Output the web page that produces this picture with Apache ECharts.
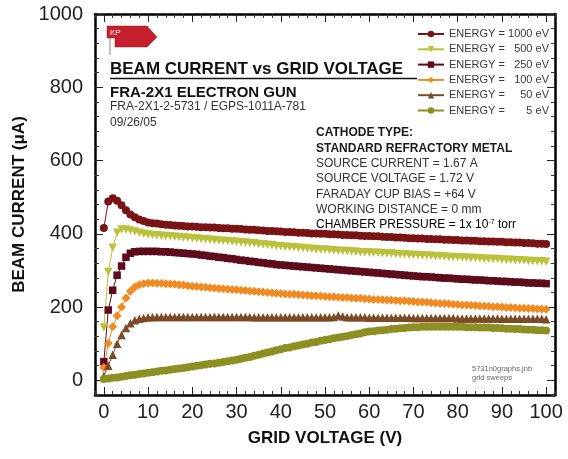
<!DOCTYPE html>
<html>
<head>
<meta charset="utf-8">
<script src="https://cdn.jsdelivr.net/npm/echarts@6/dist/echarts.min.js"></script>
<style>html,body{margin:0;padding:0;background:#fff}#c{width:568px;height:459px}</style>
</head>
<body>
<div id="c"></div>
<script>
var voltages = [0,1,2,3,4,5,6,7,8,9,10,11,12,13,14,15,16,17,18,19,20,21,22,23,24,25,26,27,28,29,30,31,32,33,34,35,36,37,38,39,40,41,42,43,44,45,46,47,48,49,50,51,52,53,54,55,56,57,58,59,60,61,62,63,64,65,66,67,68,69,70,71,72,73,74,75,76,77,78,79,80,81,82,83,84,85,86,87,88,89,90,91,92,93,94,95,96,97,98,99,100];
var e1000 = [416,488,497,490,478,464,453,445,439,435,431,429,428,426,425,424,423,422,421,420,420,419,418,418,417,417,416,415,415,414,414,413,412,411,411,410,409,408,408,407,406,405,405,404,403,403,402,401,401,400,400,399,399,398,397,397,396,396,395,394,394,393,393,392,391,391,390,390,389,388,388,387,387,386,386,385,385,384,384,383,383,382,382,381,381,380,380,379,379,378,378,377,377,376,376,375,375,374,373,373,372];
var e500 = [144,296,362,403,412,412,409,406,403,400,398,397,396,395,394,393,392,391,390,389,388,387,386,385,384,383,382,381,380,379,378,377,376,375,374,372,371,370,369,367,366,365,364,363,362,361,360,359,358,357,357,356,355,354,353,353,352,351,350,350,349,348,348,347,346,346,345,344,344,343,342,342,341,341,340,339,339,338,337,337,336,335,335,334,334,333,332,332,331,331,330,329,329,328,328,327,326,326,325,325,324];
var e250 = [51,192,246,287,312,336,347,351,352,352,352,352,352,351,351,350,349,348,347,346,345,344,342,341,339,338,336,335,333,332,330,328,327,325,324,322,321,319,318,316,315,314,313,312,311,310,309,308,307,306,305,304,303,302,301,300,299,298,297,296,295,294,293,292,291,290,289,288,287,286,285,284,283,283,282,281,280,279,279,278,277,276,276,275,274,274,273,272,272,271,270,270,269,268,268,267,266,266,265,265,264];
var e100 = [35,101,146,176,200,225,243,255,261,264,266,266,265,265,264,263,262,261,260,258,257,256,255,254,253,252,251,250,249,248,247,246,245,244,243,242,241,240,239,238,237,236,235,235,234,233,232,231,231,230,229,228,228,227,226,226,225,224,224,223,222,221,221,220,219,219,218,217,217,216,215,214,214,213,212,211,210,210,209,208,207,206,206,205,204,203,203,202,201,201,200,199,199,198,197,197,196,196,195,195,194];
var e50 = [12,40,70,100,124,143,156,164,168,170,172,172,173,173,173,173,173,173,173,173,173,173,173,173,173,173,173,173,173,173,173,173,173,173,172,172,172,172,172,172,172,172,172,172,172,172,172,172,172,172,172,172,173,177,174,172,172,172,172,172,171,171,171,171,171,171,171,171,171,171,170,170,170,170,170,170,170,170,170,170,169,169,169,169,169,169,169,169,169,169,168,168,168,168,168,168,168,168,168,168,167];
var e5 = [4,5,7,8,10,12,14,15,17,19,21,22,24,26,27,29,31,32,34,36,38,40,41,43,45,46,48,50,52,54,56,59,62,64,67,70,73,76,79,82,85,88,90,93,95,98,100,103,105,108,110,112,115,117,119,121,124,126,128,131,133,134,136,137,138,140,141,142,143,144,145,145,146,146,146,146,146,146,146,146,146,146,145,145,145,144,144,144,143,143,142,141,141,140,140,139,138,138,137,137,136];
var seriesNames = ['1000 eV',' 500 eV',' 250 eV',' 100 eV','50 eV','5 eV'];
var xMajorTicks = [0,10,20,30,40,50,60,70,80,90,100];
var yMajorTicks = [0,200,400,600,800,1000];

var FONT = 'Liberation Sans, Arial, Helvetica, sans-serif';
function pairs(vals){ return voltages.map(function(v,i){ return [v, vals[i]]; }); }

var specs = [
  {name: seriesNames[0], data: e1000, color: '#7a1315', symbol: 'circle', rot: 0, size: 8},
  {name: seriesNames[1], data: e500, color: '#b9c23a', symbol: 'triangle', rot: 180, size: 8.5},
  {name: seriesNames[2], data: e250, color: '#5e0c1c', symbol: 'rect', rot: 0, size: 7.5},
  {name: seriesNames[3], data: e100, color: '#ef8b22', symbol: 'diamond', rot: 0, size: 9},
  {name: seriesNames[4], data: e50, color: '#7b4a26', symbol: 'triangle', rot: 0, size: 8.5},
  {name: seriesNames[5], data: e5, color: '#8d8f22', symbol: 'circle', rot: 0, size: 8}
];

var series = specs.map(function(s){
  return {
    type: 'line', name: s.name, data: pairs(s.data),
    xAxisIndex: 0, yAxisIndex: 0,
    symbol: s.symbol, symbolRotate: s.rot, symbolSize: s.size, showSymbol: true,
    itemStyle: {color: s.color},
    lineStyle: {color: s.color, width: 1},
    emphasis: {disabled: true},
    animation: false, z: 3
  };
});

function xAxisDef(pos, major, labels){
  return {
    type: 'value', position: pos, min: -2, max: 102, interval: 2,
    splitLine: {show: false},
    axisLine: {show: !major, onZero: false, lineStyle: {color: '#000', width: 2.5}},
    axisTick: major ? {show: true, inside: true, length: 8, customValues: xMajorTicks, lineStyle: {color: '#222', width: 1}}
                    : {show: true, inside: true, length: 4, lineStyle: {color: '#333', width: 1}},
    axisLabel: labels ? {show: true, margin: 7, color: '#222', fontSize: 20, fontFamily: FONT,
                 formatter: function(v){ return (v >= 0 && v <= 100 && v % 10 === 0) ? String(v) : ''; }}
                      : {show: false},
    name: labels ? 'GRID VOLTAGE (V)' : '',
    nameLocation: 'middle', nameGap: 35,
    nameTextStyle: {fontSize: 17, fontWeight: 'bold', color: '#111', fontFamily: FONT}
  };
}
function yAxisDef(pos, major, labels){
  return {
    type: 'value', position: pos, min: -40, max: 1000, interval: 40,
    splitLine: {show: false},
    axisLine: {show: !major, onZero: false, lineStyle: {color: '#000', width: 2.5}},
    axisTick: major ? {show: true, inside: true, length: 8, customValues: yMajorTicks, lineStyle: {color: '#222', width: 1}}
                    : {show: true, inside: true, length: 4, lineStyle: {color: '#333', width: 1}},
    axisLabel: labels ? {show: true, margin: 12, color: '#222', fontSize: 20, fontFamily: FONT,
                 formatter: function(v){ return (v >= 0 && v % 200 === 0) ? String(v) : ''; }}
                      : {show: false},
    name: labels ? 'BEAM CURRENT (\u03bcA)' : '',
    nameLocation: 'middle', nameGap: 61, nameRotate: 90,
    nameTextStyle: {fontSize: 17, fontWeight: 'bold', color: '#111', fontFamily: FONT}
  };
}

var legendRich = {
  a: {width: 57, fontSize: 11, color: '#3a3a3a', fontFamily: FONT},
  b: {width: 43, align: 'right', fontSize: 11, color: '#3a3a3a', fontFamily: FONT}
};

var infoLines = [
  ['CATHODE TYPE:', true],
  ['STANDARD REFRACTORY METAL', true],
  ['SOURCE CURRENT = 1.67 A', false],
  ['SOURCE VOLTAGE = 1.72 V', false],
  ['FARADAY CUP BIAS = +64 V', false],
  ['WORKING DISTANCE = 0 mm', false]
];

var graphics = [];
graphics.push({type: 'line', shape: {x1: 110, y1: 38, x2: 110, y2: 55}, style: {stroke: '#666', lineWidth: 0.8}, z: 10});
graphics.push({type: 'polygon', shape: {points: [[107,26],[147,26],[157,37],[147,47],[115,47],[115,38],[107,38]]},
  style: {fill: '#c41f2c', stroke: '#a01520', lineWidth: 0.5}, z: 10});
graphics.push({type: 'text', x: 110, y: 28.5, style: {text: 'KP', fill: '#fff', fontSize: 8, fontFamily: FONT}, z: 11});
graphics.push({type: 'text', x: 110, y: 61, style: {text: 'BEAM CURRENT vs GRID VOLTAGE', fill: '#111', fontSize: 17, fontWeight: 'bold', fontFamily: FONT}, z: 10});
graphics.push({type: 'line', shape: {x1: 110, y1: 78.5, x2: 417, y2: 78.5}, style: {stroke: '#111', lineWidth: 1.5}, z: 10});
graphics.push({type: 'text', x: 110, y: 85, style: {text: 'FRA-2X1 ELECTRON GUN', fill: '#111', fontSize: 15, fontWeight: 'bold', fontFamily: FONT}, z: 10});
graphics.push({type: 'text', x: 110, y: 101, style: {text: 'FRA-2X1-2-5731 / EGPS-1011A-781', fill: '#333', fontSize: 12, fontFamily: FONT}, z: 10});
graphics.push({type: 'text', x: 110, y: 117, style: {text: '09/26/05', fill: '#333', fontSize: 12, fontFamily: FONT}, z: 10});
infoLines.forEach(function(l, i){
  graphics.push({type: 'text', x: 316, y: 127 + i * 15.3, style: {text: l[0], fill: l[1] ? '#1a1a1a' : '#333', fontSize: 12, fontWeight: l[1] ? 'bold' : 'normal', fontFamily: FONT}, z: 10});
});
graphics.push({type: 'text', x: 316, y: 127 + 6 * 15.3, style: {
  text: '{n|CHAMBER PRESSURE = 1x 10}{s|-7}{n| torr}',
  rich: {n: {fontSize: 12, color: '#333', fontFamily: FONT, verticalAlign: 'bottom'}, s: {fontSize: 7, color: '#333', fontFamily: FONT, verticalAlign: 'top'}}
}, z: 10});
graphics.push({type: 'text', x: 472, y: 365, style: {text: '5731n0graphs.jnb', fill: '#666', fontSize: 7.5, fontFamily: FONT}, z: 10});
graphics.push({type: 'text', x: 472, y: 374, style: {text: 'grid sweeps', fill: '#666', fontSize: 7.5, fontFamily: FONT}, z: 10});

var chart = echarts.init(document.getElementById('c'), null, {renderer: 'canvas'});
chart.setOption({
  backgroundColor: '#fff',
  animation: false,
  grid: {left: 95, top: 14, right: 13, bottom: 64, containLabel: false},
  xAxis: [xAxisDef('bottom', false, true), xAxisDef('bottom', true, false), xAxisDef('top', false, false), xAxisDef('top', true, false)],
  yAxis: [yAxisDef('left', false, true), yAxisDef('left', true, false), yAxisDef('right', false, false), yAxisDef('right', true, false)],
  legend: {
    orient: 'vertical', left: 417, top: 28.5, padding: 0, itemWidth: 26, itemHeight: 8, itemGap: 4.3,
    selectedMode: false,
    data: seriesNames,
    formatter: function(n){ return '{a|ENERGY =}{b|' + n.trim() + '}'; },
    textStyle: {rich: legendRich}
  },
  series: series,
  graphic: graphics
});
</script>
</body>
</html>
